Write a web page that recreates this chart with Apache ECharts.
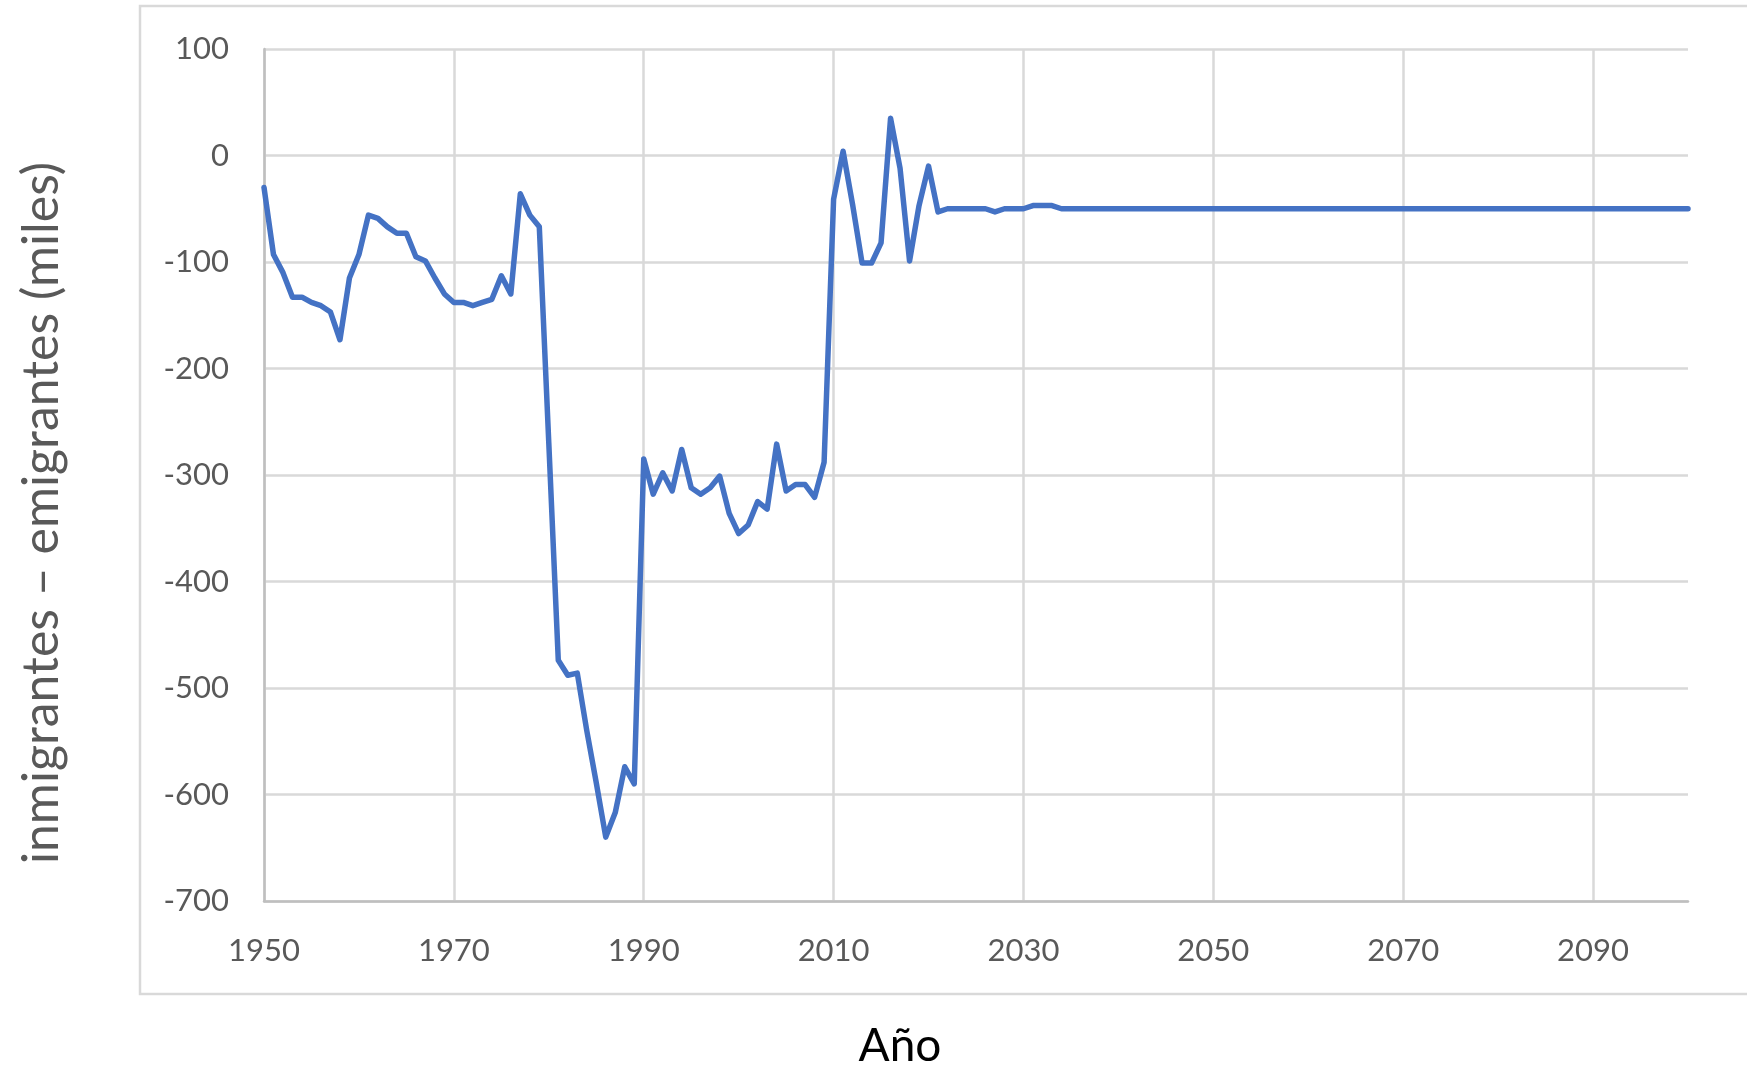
<!DOCTYPE html>
<html>
<head>
<meta charset="utf-8">
<script src="https://cdn.jsdelivr.net/npm/echarts@6/dist/echarts.min.js"></script>
<style>
  html, body { margin: 0; padding: 0; background: #fff; }
  #chart { width: 1747px; height: 1066px; }
</style>
</head>
<body>
<div id="chart"></div>
<script>
// años (eje X)
var years = [
  1950, 1951, 1952, 1953, 1954, 1955, 1956, 1957, 1958, 1959,
  1960, 1961, 1962, 1963, 1964, 1965, 1966, 1967, 1968, 1969,
  1970, 1971, 1972, 1973, 1974, 1975, 1976, 1977, 1978, 1979,
  1980, 1981, 1982, 1983, 1984, 1985, 1986, 1987, 1988, 1989,
  1990, 1991, 1992, 1993, 1994, 1995, 1996, 1997, 1998, 1999,
  2000, 2001, 2002, 2003, 2004, 2005, 2006, 2007, 2008, 2009,
  2010, 2011, 2012, 2013, 2014, 2015, 2016, 2017, 2018, 2019,
  2020, 2021, 2022, 2023, 2024, 2025, 2026, 2027, 2028, 2029,
  2030, 2031, 2032, 2033, 2034, 2035, 2036, 2037, 2038, 2039,
  2040, 2041, 2042, 2043, 2044, 2045, 2046, 2047, 2048, 2049,
  2050, 2051, 2052, 2053, 2054, 2055, 2056, 2057, 2058, 2059,
  2060, 2061, 2062, 2063, 2064, 2065, 2066, 2067, 2068, 2069,
  2070, 2071, 2072, 2073, 2074, 2075, 2076, 2077, 2078, 2079,
  2080, 2081, 2082, 2083, 2084, 2085, 2086, 2087, 2088, 2089,
  2090, 2091, 2092, 2093, 2094, 2095, 2096, 2097, 2098, 2099,
  2100
];

// inmigrantes - emigrantes (miles)
var netMigration = [
  -30, -93, -110, -133, -133, -138, -141, -147, -173, -115,
  -93, -56, -59, -67, -73, -73, -95, -99, -115, -130,
  -138, -138, -141, -138, -135, -113, -130, -36, -56, -67,
  -270, -474, -488, -486, -540, -589, -640, -617, -574, -590,
  -285, -318, -298, -315, -276, -312, -318, -312, -301, -336,
  -355, -347, -325, -332, -271, -315, -309, -309, -321, -288,
  -41, 4, -46, -101, -101, -82, 35, -12, -99, -47,
  -10, -53, -50, -50, -50, -50, -50, -53, -50, -50,
  -50, -47, -47, -47, -50, -50, -50, -50, -50, -50,
  -50, -50, -50, -50, -50, -50, -50, -50, -50, -50,
  -50, -50, -50, -50, -50, -50, -50, -50, -50, -50,
  -50, -50, -50, -50, -50, -50, -50, -50, -50, -50,
  -50, -50, -50, -50, -50, -50, -50, -50, -50, -50,
  -50, -50, -50, -50, -50, -50, -50, -50, -50, -50,
  -50, -50, -50, -50, -50, -50, -50, -50, -50, -50,
  -50
];

var yTitle = "inmigrantes – emigrantes (miles)";
var xTitle = "Año";

var chartDom = document.getElementById("chart");
var myChart = echarts.init(chartDom);

var option = {
  animation: false,
  backgroundColor: "#ffffff",
  grid: {
    left: 264,
    right: 59,
    top: 49,
    bottom: 165,
    containLabel: false
  },
  xAxis: {
    type: "value",
    min: 1950,
    max: 2100,
    interval: 20,
    axisLine: { show: true, onZero: false, lineStyle: { color: "#bfbfbf", width: 2.5 } },
    axisTick: { show: false },
    axisLabel: {
      margin: 34,
      showMaxLabel: false,
      color: "#595959",
      fontFamily: "Lato",
      fontSize: 31,
      formatter: function (v) { return String(v); }
    },
    splitLine: {
      show: true,
      showMaxLine: false,
      lineStyle: { color: "#d9d9d9", width: 2.5 }
    }
  },
  yAxis: {
    type: "value",
    min: -700,
    max: 100,
    interval: 100,
    axisLine: { show: true, lineStyle: { color: "#bfbfbf", width: 2.5 } },
    axisTick: { show: false },
    axisLabel: {
      margin: 35,
      color: "#595959",
      fontFamily: "Lato",
      fontSize: 31
    },
    splitLine: {
      show: true,
      lineStyle: { color: "#d9d9d9", width: 2.5 }
    }
  },
  graphic: [
    {
      type: "rect",
      z: -10,
      shape: { x: 140, y: 6, width: 1640, height: 988 },
      style: { fill: "none", stroke: "#d9d9d9", lineWidth: 2.5 }
    },
    {
      type: "text",
      x: 42,
      y: 513,
      rotation: Math.PI / 2,
      style: {
        text: yTitle,
        font: "50px Lato",
        fill: "#595959",
        align: "center",
        verticalAlign: "middle",
        textAlign: "center",
        textVerticalAlign: "middle"
      }
    },
    {
      type: "text",
      x: 900,
      y: 1046,
      style: {
        text: xTitle,
        font: "46px Lato",
        fill: "#000000",
        align: "center",
        verticalAlign: "middle",
        textAlign: "center",
        textVerticalAlign: "middle"
      }
    }
  ],
  series: [
    {
      name: "inmigrantes – emigrantes",
      type: "line",
      data: years.map(function (y, i) { return [y, netMigration[i]]; }),
      showSymbol: false,
      symbol: "none",
      smooth: false,
      lineStyle: { color: "#4472c4", width: 5.5, join: "round", cap: "round" },
      itemStyle: { color: "#4472c4" }
    }
  ]
};

myChart.setOption(option);
</script>
</body>
</html>
